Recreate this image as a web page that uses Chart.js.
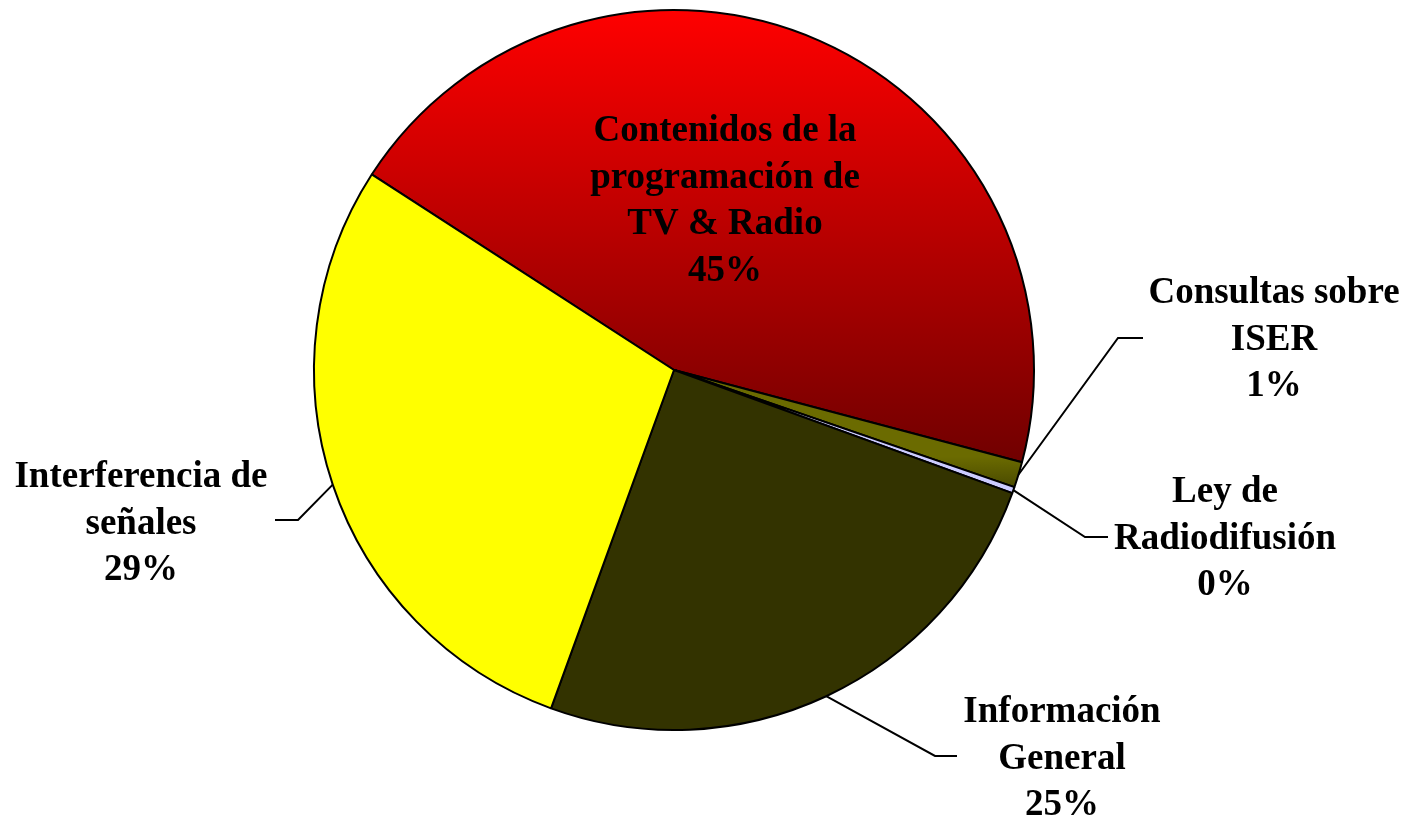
<!DOCTYPE html>
<html>
<head>
<meta charset="utf-8">
<script src="https://cdn.jsdelivr.net/npm/chart.js@4.4.0/dist/chart.umd.min.js"></script>
<style>
  html, body { margin: 0; padding: 0; background: #fff; }
  #wrap { width: 1408px; height: 819px; position: relative; }
</style>
</head>
<body>
<div id="wrap"><canvas id="pie"></canvas></div>
<script>
// Data (share of queries, in %)
const categories = [
  ['Contenidos de la', 'programación de', 'TV & Radio'],
  ['Consultas sobre', 'ISER'],
  ['Ley de', 'Radiodifusión'],
  ['Información', 'General'],
  ['Interferencia de', 'señales']
];
const values = [45.0, 1.15, 0.28, 25.0, 28.6];
const percentLabels = ['45%', '1%', '0%', '25%', '29%'];

// Label layout (pixels): text centre x, first baseline y, and leader elbow/end
const labelLayout = [
  { x: 725, y: 141, elbow: null },
  { x: 1274, y: 303, elbow: [1118, 338], end: [1143, 338] },
  { x: 1225, y: 502, elbow: [1085, 537], end: [1108, 537] },
  { x: 1062, y: 722, elbow: [935, 756], end: [957, 756] },
  { x: 141, y: 487, elbow: [298, 520], end: [275, 520] }
];

const LINE_H = 46.5;
const FONT = 'bold 37px "Liberation Serif", "Times New Roman", serif';

function sliceFill(context) {
  const i = context.dataIndex;
  const chart = context.chart;
  const area = chart.chartArea;
  if (i === 0) {
    if (!area) return '#c00000';
    const g = chart.ctx.createLinearGradient(0, area.top, 0, area.top + area.height * 0.63);
    g.addColorStop(0, '#ff0000');
    g.addColorStop(1, '#700000');
    return g;
  }
  if (i === 1) {
    if (!area) return '#555500';
    const cy = (area.top + area.bottom) / 2;
    const g = chart.ctx.createLinearGradient(0, cy + area.height * 0.12, 0, cy + area.height * 0.17);
    g.addColorStop(0, '#6b6b00');
    g.addColorStop(1, '#444400');
    return g;
  }
  return ['#ff0000', '#666600', '#ccccff', '#333300', '#ffff00'][i];
}

const labelPlugin = {
  id: 'sliceLabels',
  afterDatasetsDraw(chart) {
    const ctx = chart.ctx;
    const arcs = chart.getDatasetMeta(0).data;
    ctx.save();
    arcs.forEach((arc, i) => {
      const p = arc.getProps(['x', 'y', 'startAngle', 'endAngle', 'outerRadius'], true);
      const mid = (p.startAngle + p.endAngle) / 2;
      const lay = labelLayout[i];
      if (lay.elbow) {
        const ax = p.x + p.outerRadius * Math.cos(mid);
        const ay = p.y + p.outerRadius * Math.sin(mid);
        ctx.beginPath();
        ctx.moveTo(ax, ay);
        ctx.lineTo(lay.elbow[0], lay.elbow[1]);
        ctx.lineTo(lay.end[0], lay.end[1]);
        ctx.strokeStyle = '#000';
        ctx.lineWidth = 2;
        ctx.stroke();
      }
      const lines = [...categories[i], percentLabels[i]];
      ctx.font = FONT;
      ctx.fillStyle = '#000';
      ctx.textAlign = 'center';
      ctx.textBaseline = 'alphabetic';
      lines.forEach((t, k) => ctx.fillText(t, lay.x, lay.y + k * LINE_H));
    });
    ctx.restore();
  }
};

new Chart(document.getElementById('pie'), {
  type: 'pie',
  data: {
    labels: categories.map(c => c.join(' ')),
    datasets: [{
      data: values,
      backgroundColor: sliceFill,
      borderColor: '#000',
      borderWidth: 2
    }]
  },
  options: {
    responsive: true,
    maintainAspectRatio: false,
    animation: false,
    rotation: -57.1,
    layout: { padding: { left: 313, right: 373, top: 9, bottom: 88 } },
    plugins: {
      legend: { display: false },
      tooltip: { enabled: false }
    }
  },
  plugins: [labelPlugin]
});
</script>
</body>
</html>
